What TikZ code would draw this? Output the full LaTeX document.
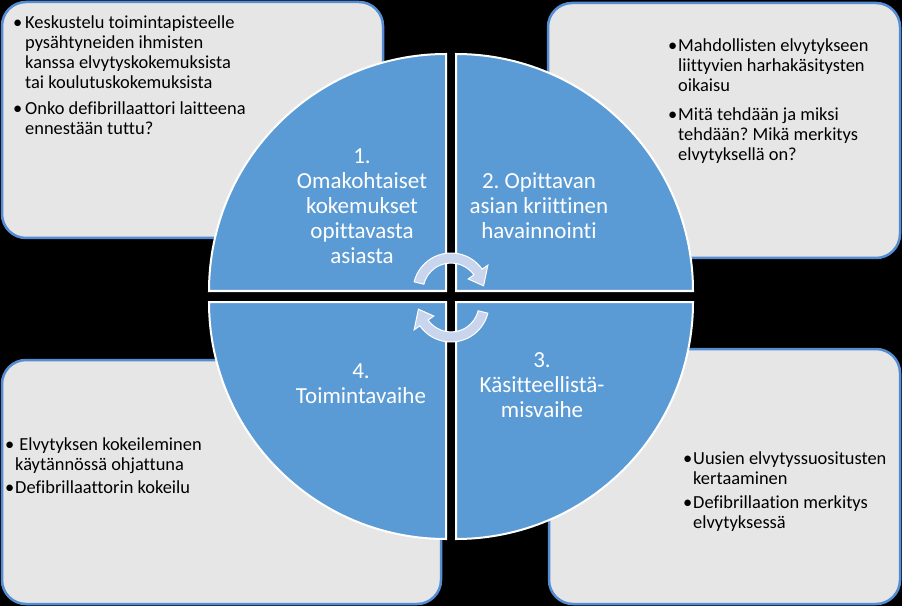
\documentclass[tikz,border=0pt]{standalone}
\usepackage{fontspec}
\setmainfont{Carlito}[Ligatures={NoCommon,NoContextual}]
\frenchspacing
\definecolor{quadblue}{RGB}{91,155,213}
\definecolor{boxgrey}{RGB}{230,230,230}
\definecolor{boxblue}{RGB}{84,141,212}
\definecolor{arrowfill}{RGB}{200,213,236}
\tikzset{
  infobox/.style={draw=boxblue, line width=2.5pt, fill=boxgrey, rounded corners=24pt},
  quad/.style={draw=white, line width=2pt, fill=quadblue},
  quadtext/.style={text=white, align=center, inner sep=0pt, font=\fontsize{23}{25}\selectfont},
  boxtext/.style={text=black, anchor=base west, inner sep=0pt, font=\fontsize{18.4}{20}\selectfont},
  cyclearrow/.style={fill=arrowfill, draw=white, line width=1pt}
}
\newcommand{\bl}{\makebox[10pt][l]{\textbullet}}
\begin{document}
\begin{tikzpicture}[x=1pt,y=1pt]
\fill[black] (0,0) rectangle (902,606);
% Drawing boxes
% Box 1: top left
\draw[infobox] (2,368) rectangle (383,604);
% Box 2: top right
\draw[infobox] (548,348) rectangle (900,603);
% Box 3: bottom right
\draw[infobox] (549,2) rectangle (900,257);
% Box 4: bottom left
\draw[infobox] (2,2) rectangle (441,246);
% Done with boxes; drawing quadrants
% Quadrant 1
\draw[quad] (446,315) -- (209,315) arc[start angle=180, end angle=90, radius=237] -- cycle;
% Quadrant 2
\draw[quad] (456,315) -- (456,552) arc[start angle=90, end angle=0, radius=237] -- cycle;
% Quadrant 3
\draw[quad] (456,304) -- (693,304) arc[start angle=0, end angle=-90, radius=237] -- cycle;
% Quadrant 4
\draw[quad] (446,304) -- (446,67) arc[start angle=-90, end angle=-180, radius=237] -- cycle;
% Done with quadrants; drawing cycle arrows
\begin{scope}[shift={(451,315)}]
\draw[cyclearrow] (166:38) arc[start angle=166, end angle=35, radius=38] -- (35:45) -- (9:33) -- (35:21) -- (35:28) arc[start angle=35, end angle=166, radius=28] -- cycle;
\end{scope}
\begin{scope}[shift={(451,302)}, rotate=180]
\draw[cyclearrow] (166:38) arc[start angle=166, end angle=35, radius=38] -- (35:45) -- (9:33) -- (35:21) -- (35:28) arc[start angle=35, end angle=166, radius=28] -- cycle;
\end{scope}
% Done with arrows; drawing phase labels
\node[quadtext] (phase1) at (362,400) {1.\\Omakohtaiset\\kokemukset\\opittavasta\\asiasta};
\node[quadtext] (phase2) at (539,400) {2. Opittavan\\asian kriittinen\\havainnointi};
\node[quadtext] (phase3) at (542,221) {3.\\Käsitteellistä-\\misvaihe};
\node[quadtext] (phase4) at (361,222) {4.\\Toimintavaihe};
% Done with labels; drawing box texts
\node[boxtext] (notes1) at (13,577) {\begin{tabular}[t]{@{}l@{}l@{}}
\makebox[12pt][l]{\textbullet} & Keskustelu toimintapisteelle\\
 & pysähtyneiden ihmisten\\
 & kanssa elvytyskokemuksista\\
 & tai koulutuskokemuksista\\[6pt]
\makebox[12pt][l]{\textbullet} & Onko defibrillaattori laitteena\\
 & ennestään tuttu?
\end{tabular}};
\node[boxtext] (notes2) at (668,554) {\begin{tabular}[t]{@{}l@{}l@{}}
\bl & Mahdollisten elvytykseen\\
 & liittyvien harhakäsitysten\\
 & oikaisu\\[9pt]
\bl & Mitä tehdään ja miksi\\
 & tehdään? Mikä merkitys\\
 & elvytyksellä on?
\end{tabular}};
\node[boxtext] (notes3) at (683,142) {\begin{tabular}[t]{@{}l@{}l@{}}
\bl & Uusien elvytyssuositusten\\
 & kertaaminen\\[4pt]
\bl & Defibrillaation merkitys\\
 & elvytyksessä
\end{tabular}};
\node[boxtext] (notes4) at (5,156) {\begin{tabular}[t]{@{}l@{}l@{}}
\bl & \ Elvytyksen kokeileminen\\
 & käytännössä ohjattuna\\[3pt]
\bl & Defibrillaattorin kokeilu
\end{tabular}};
% Done with texts
\end{tikzpicture}
\end{document}
